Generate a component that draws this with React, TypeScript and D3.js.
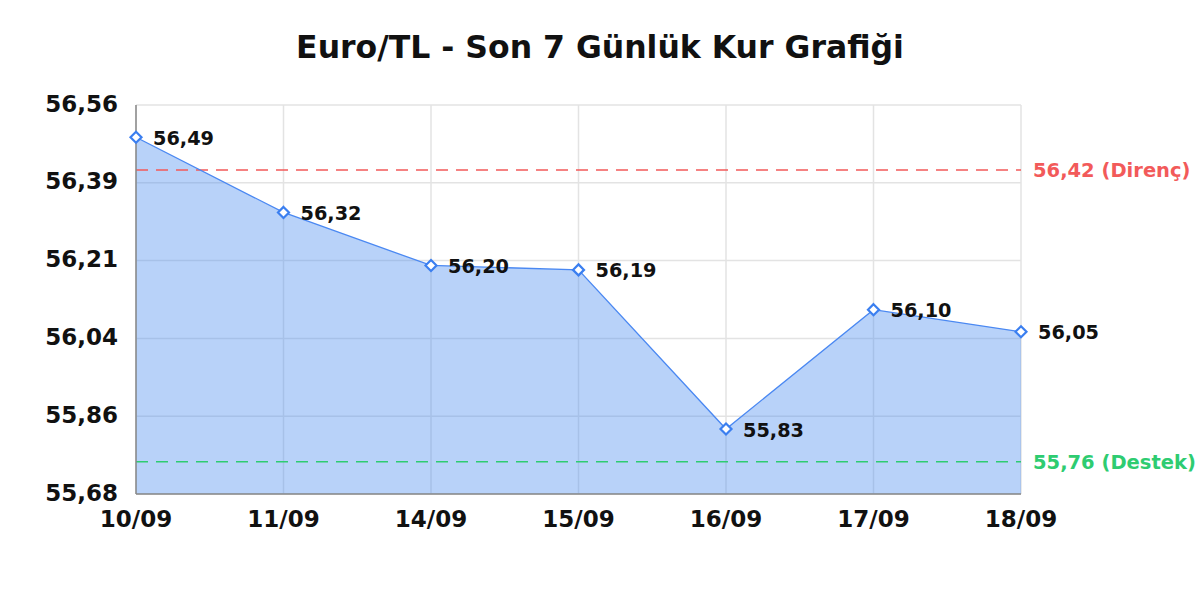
import React from "react";
import * as d3 from "d3";

const dates = ["10/09", "11/09", "14/09", "15/09", "16/09", "17/09", "18/09"];
const rates = [56.49, 56.32, 56.2, 56.19, 55.83, 56.1, 56.05];
const resistance = 56.416;
const support = 55.756;
const yMin = 55.683;
const yMax = 56.563;
const tickCount = 5;

const W = 1200;
const H = 600;
const left = 136;
const right = 1021;
const top = 105;
const bottom = 494;
const font = "'DejaVu Sans', sans-serif";

const fmt = (v: number) => v.toFixed(2).replace(".", ",");

export default function App() {
  const x = d3.scalePoint<string>().domain(dates).range([left, right]);
  const y = d3.scaleLinear().domain([yMin, yMax]).range([bottom, top]);
  const yTicks = d3.range(tickCount + 1).map((i) => yMin + ((yMax - yMin) * i) / tickCount);
  const pts = dates.map((d, i) => ({ d, v: rates[i] }));
  const line = d3
    .line<{ d: string; v: number }>()
    .x((p) => x(p.d) as number)
    .y((p) => y(p.v));
  const area = d3
    .area<{ d: string; v: number }>()
    .x((p) => x(p.d) as number)
    .y0(bottom)
    .y1((p) => y(p.v));
  const diamond = (cx: number, cy: number, r: number) =>
    `M${cx},${cy - r}L${cx + r},${cy}L${cx},${cy + r}L${cx - r},${cy}Z`;

  return (
    <svg width={W} height={H} style={{ display: "block", position: "absolute", left: 0, top: 0 }}>
      <rect width={W} height={H} fill="#fff" />
      <text x={600} y={49} textAnchor="middle" dominantBaseline="middle" fontFamily={font} fontWeight="bold" fontSize={31.5} fill="#111">
        Euro/TL - Son 7 Günlük Kur Grafiği
      </text>
      {yTicks.map((t, i) => (
        <line key={"gy" + i} x1={left} x2={right} y1={y(t)} y2={y(t)} stroke="#e3e3e3" strokeWidth={1.5} />
      ))}
      {dates.map((d) => (
        <line key={"gx" + d} x1={x(d)} x2={x(d)} y1={top} y2={bottom} stroke="#e3e3e3" strokeWidth={1.5} />
      ))}
      <path d={area(pts) || ""} fill="#4d8ef0" fillOpacity={0.4} />
      <line x1={left} x2={right} y1={y(resistance)} y2={y(resistance)} stroke="#f25a5a" strokeWidth={1.5} strokeDasharray="12 8" />
      <line x1={left} x2={right} y1={y(support)} y2={y(support)} stroke="#2ecc71" strokeWidth={1.5} strokeDasharray="12 8" />
      <path d={line(pts) || ""} fill="none" stroke="#4a88f2" strokeWidth={1.3} />
      <line x1={left} x2={left} y1={top} y2={bottom} stroke="#888" strokeWidth={1.5} />
      <line x1={left} x2={right} y1={bottom} y2={bottom} stroke="#888" strokeWidth={1.5} />
      {yTicks.map((t, i) => (
        <text key={"ty" + i} x={118} y={y(t)} textAnchor="end" dominantBaseline="middle" fontFamily={font} fontWeight="bold" fontSize={23} fill="#111">
          {fmt(t)}
        </text>
      ))}
      {dates.map((d) => (
        <text key={"tx" + d} x={x(d)} y={520} textAnchor="middle" dominantBaseline="middle" fontFamily={font} fontWeight="bold" fontSize={23} fill="#111">
          {d}
        </text>
      ))}
      {pts.map((p) => (
        <path key={"m" + p.d} d={diamond(x(p.d) as number, y(p.v), 5.5)} fill="#fff" stroke="#3b7ff0" strokeWidth={2.2} />
      ))}
      {pts.map((p) => (
        <text key={"l" + p.d} x={(x(p.d) as number) + 17} y={y(p.v) + 2} dominantBaseline="middle" fontFamily={font} fontWeight="bold" fontSize={19.3} fill="#111">
          {fmt(p.v)}
        </text>
      ))}
      <text x={1033} y={y(resistance) + 2} dominantBaseline="middle" fontFamily={font} fontWeight="bold" fontSize={19.5} fill="#f25a5a">
        {fmt(resistance)} (Direnç)
      </text>
      <text x={1033} y={y(support) + 2} dominantBaseline="middle" fontFamily={font} fontWeight="bold" fontSize={19.5} fill="#2ecc71">
        {fmt(support)} (Destek)
      </text>
    </svg>
  );
}
